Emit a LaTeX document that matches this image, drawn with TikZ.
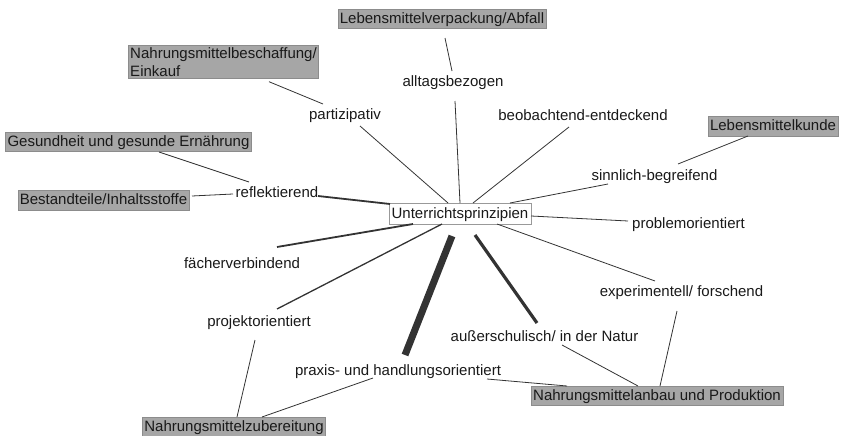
\documentclass[tikz,border=0pt]{standalone}
\usepackage{fontspec}
\setmainfont{Liberation Sans}
\begin{document}
\begin{tikzpicture}[x=1pt,y=-1pt,
  every node/.style={font=\fontsize{15}{18}\selectfont, text=black!90},
  principle/.style={inner xsep=1pt, inner ysep=2pt, text height=14pt, text depth=2pt},
  topicfill/.style={draw=black!45, fill=black!35, line width=0.6pt, inner xsep=2pt},
  topicbox/.style={topicfill, inner ysep=2.5pt, text height=11.5pt, text depth=3pt},
  centerbox/.style={draw=black!40, fill=white, line width=0.7pt, inner xsep=2.5pt, inner ysep=3pt, text height=11.5pt, text depth=3pt},
  link/.style={draw=black!80, line width=0.8pt},
  midlink/.style={draw=black!80, line width=1.8pt},
  boldlink/.style={draw=black!80, line width=3.2pt},
  heavylink/.style={draw=black!80, line width=7pt}]
\useasboundingbox (0,0) rectangle (844,436);

% central concept
\node[centerbox] (U) at (460,214) {Unterrichtsprinzipien};

% teaching principles
\node[principle] (alltag)  at (453,81)    {alltagsbezogen};
\node[principle] (partiz)  at (345,113)   {partizipativ};
\node[principle] (reflekt) at (277,191)   {reflektierend};
\node[principle] (beob)    at (583,115)   {beobachtend-entdeckend};
\node[principle] (sinn)    at (654.5,174) {sinnlich-begreifend};
\node[principle] (problem) at (688.5,222) {problemorientiert};
\node[principle] (exper)   at (681.5,290) {experimentell/ forschend};
\node[principle] (faecher) at (242,262)   {fächerverbindend};
\node[principle] (projekt) at (259,320)   {projektorientiert};
\node[principle] (praxis)  at (398,369)   {praxis- und handlungsorientiert};
\node[principle] (ausser)  at (544.5,335) {außerschulisch/ in der Natur};

% subject areas
\node[topicbox] (verp)    at (442,19)    {Lebensmittelverpackung/Abfall};
\node[topicfill, align=left, inner ysep=2pt] (einkauf) at (223.5,62) {Nahrungsmittelbeschaffung/\\Einkauf};
\node[topicbox] (gesund)  at (128.5,142) {Gesundheit und gesunde Ernährung};
\node[topicbox] (bestand) at (103.5,200.5) {Bestandteile/Inhaltsstoffe};
\node[topicbox] (kunde)   at (773,126.5) {Lebensmittelkunde};
\node[topicbox] (anbau)   at (657,396)   {Nahrungsmittelanbau und Produktion};
\node[topicbox] (zuber)   at (234,427)   {Nahrungsmittelzubereitung};

% principle -- centre
\draw[link]      ([shift={(2,20)}]alltag.center)    -- ([shift={(0,-11)}]U.center);
\draw[link]      ([shift={(15,13)}]partiz.center)   -- ([shift={(-12,-11)}]U.center);
\draw[midlink]   ([shift={(41,5)}]reflekt.center)   -- ([shift={(-70,-10)}]U.center);
\draw[link]      ([shift={(-14,12)}]beob.center)    -- ([shift={(13,-11)}]U.center);
\draw[link]      ([shift={(-46.5,10)}]sinn.center)  -- ([shift={(50,-11)}]U.center);
\draw[link]      ([shift={(71,2)}]U.center)         -- ([shift={(-60.5,-1)}]problem.center);
\draw[link]      ([shift={(37,10)}]U.center)        -- ([shift={(-26.5,-9)}]exper.center);
\draw[midlink]   ([shift={(35,-15)}]faecher.center) -- ([shift={(-47,10)}]U.center);
\draw[link, line width=1.3pt] ([shift={(18,-11)}]projekt.center) -- ([shift={(-18,10)}]U.center);
\draw[heavylink] ([shift={(-8,22)}]U.center)        -- ([shift={(7,-14)}]praxis.center);
\draw[boldlink]  ([shift={(15,21)}]U.center)        -- ([shift={(-7.5,-12)}]ausser.center);

% subject area -- principle
\draw[link] ([shift={(3,19)}]verp.center)        -- ([shift={(-1,-10)}]alltag.center);
\draw[link] ([shift={(45.5,19.7)}]einkauf.center) -- ([shift={(-22,-9)}]partiz.center);
\draw[link] ([shift={(30.5,10)}]gesund.center)   -- ([shift={(-28,-9)}]reflekt.center);
\draw[link] ([shift={(88.5,-4.5)}]bestand.center) -- ([shift={(-44,3)}]reflekt.center);
\draw[link] ([shift={(-25,9.5)}]kunde.center)    -- ([shift={(23.5,-10)}]sinn.center);
\draw[link] ([shift={(-4.5,21)}]exper.center)    -- ([shift={(3,-10)}]anbau.center);
\draw[link] ([shift={(17.5,10)}]ausser.center)   -- ([shift={(-19,-10)}]anbau.center);
\draw[link] ([shift={(89,10)}]praxis.center)     -- ([shift={(-90,-10)}]anbau.center);
\draw[link] ([shift={(-4,20)}]projekt.center)    -- ([shift={(3,-10)}]zuber.center);
\draw[link] ([shift={(-25,9)}]praxis.center)     -- ([shift={(28,-10)}]zuber.center);
\end{tikzpicture}
\end{document}
